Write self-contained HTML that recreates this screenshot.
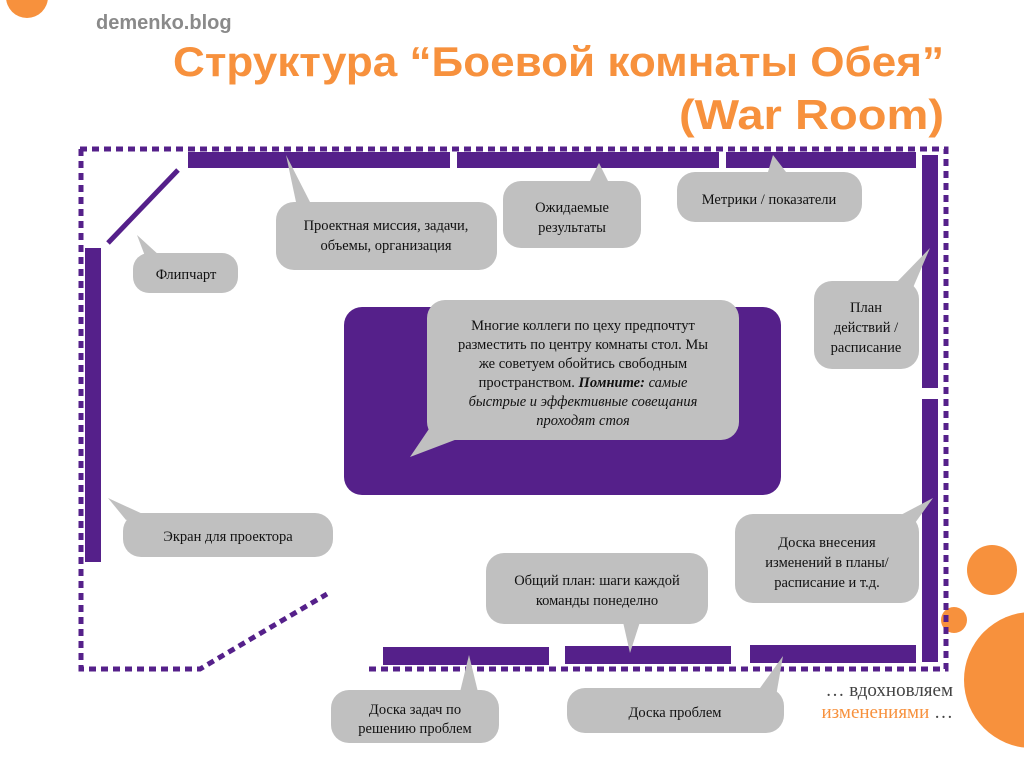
<!DOCTYPE html>
<html><head><meta charset="utf-8"><style>
html,body{margin:0;padding:0;background:#fff;width:1024px;height:768px;overflow:hidden}
svg{display:block}
.c{font-family:"Liberation Serif",serif;font-size:14.5px;fill:#111;text-anchor:middle}
</style></head><body>
<svg width="1024" height="768" viewBox="0 0 1024 768" xmlns="http://www.w3.org/2000/svg">
<!-- orange circles -->
<circle cx="27" cy="-3" r="21" fill="#f7913d"/>
<circle cx="992" cy="570" r="25" fill="#f7913d"/>
<circle cx="954" cy="620" r="13" fill="#f7913d"/>
<circle cx="1032" cy="680" r="68" fill="#f7913d"/>
<text x="96" y="29" font-family="Liberation Sans,sans-serif" font-weight="bold" font-size="20" fill="#8a8a8a">demenko.blog</text>
<text x="944" y="76" text-anchor="end" font-family="Liberation Sans,sans-serif" font-weight="bold" font-size="42" fill="#f7913d" textLength="771" lengthAdjust="spacingAndGlyphs">Структура “Боевой комнаты Обея”</text>
<text x="944" y="129" text-anchor="end" font-family="Liberation Sans,sans-serif" font-weight="bold" font-size="42" fill="#f7913d" textLength="265" lengthAdjust="spacingAndGlyphs">(War Room)</text>
<!-- dashed outline -->
<g stroke="#55208a" stroke-width="5" fill="none" stroke-dasharray="7,5">
<path d="M80 149 H946 V669 H367"/>
<path d="M81 149 V669 H200 L327 594"/>
</g>
<!-- walls -->
<g fill="#55208a">
<rect x="188" y="152" width="262" height="16"/>
<rect x="457" y="152" width="262" height="16"/>
<rect x="726" y="152" width="190" height="16"/>
<rect x="922" y="155" width="16" height="233"/>
<rect x="922" y="399" width="16" height="263"/>
<rect x="85" y="248" width="16" height="314"/>
<rect x="383" y="647" width="166" height="18"/>
<rect x="565" y="646" width="166" height="18"/>
<rect x="750" y="645" width="166" height="18"/>
<rect x="344" y="307" width="437" height="188" rx="18"/>
</g>
<line x1="178" y1="170" x2="108" y2="243" stroke="#55208a" stroke-width="5"/>
<!-- callouts -->
<g fill="#c0c0c0">
<rect x="276" y="202" width="221" height="68" rx="18"/><polygon points="286,155 296,202 310,202"/>
<rect x="503" y="181" width="138" height="67" rx="18"/><polygon points="599,163 590,181 608,181"/>
<rect x="677" y="172" width="185" height="50" rx="18"/><polygon points="773,155 768,172 786,172"/>
<rect x="133" y="253" width="105" height="40" rx="16"/><polygon points="137,235 145,256 160,256"/>
<rect x="814" y="281" width="105" height="88" rx="18"/><polygon points="930,248 895,284 912,290"/>
<rect x="427" y="300" width="312" height="140" rx="18"/><polygon points="410,457 435,420 460,438"/>
<rect x="123" y="513" width="210" height="44" rx="18"/><polygon points="108,498 126,520 145,515"/>
<rect x="735" y="514" width="184" height="89" rx="18"/><polygon points="933,498 895,518 910,530"/>
<rect x="486" y="553" width="222" height="71" rx="18"/><polygon points="630,653 623,622 640,622"/>
<rect x="331" y="690" width="168" height="53" rx="18"/><polygon points="469,655 460,692 478,692"/>
<rect x="567" y="688" width="217" height="45" rx="18"/><polygon points="783,656 755,695 775,702"/>
</g>
<text class="c" x="386" y="230">Проектная миссия, задачи,</text>
<text class="c" x="386" y="250">объемы, организация</text>
<text class="c" x="572" y="212">Ожидаемые</text>
<text class="c" x="572" y="232">результаты</text>
<text class="c" x="769" y="204">Метрики / показатели</text>
<text class="c" x="186" y="279">Флипчарт</text>
<text class="c" x="866" y="312">План</text>
<text class="c" x="866" y="332">действий /</text>
<text class="c" x="866" y="352">расписание</text>
<text class="c" x="583" y="330">Многие коллеги по цеху предпочтут</text>
<text class="c" x="583" y="349">разместить по центру комнаты стол. Мы</text>
<text class="c" x="583" y="368">же советуем обойтись свободным</text>
<text class="c" x="583" y="387">пространством. <tspan font-weight="bold" font-style="italic">Помните:</tspan><tspan font-style="italic"> самые</tspan></text>
<text class="c" x="583" y="406" font-style="italic">быстрые и эффективные совещания</text>
<text class="c" x="583" y="425" font-style="italic">проходят стоя</text>
<text class="c" x="228" y="541">Экран для проектора</text>
<text class="c" x="827" y="547">Доска внесения</text>
<text class="c" x="827" y="567">изменений в планы/</text>
<text class="c" x="827" y="587">расписание и т.д.</text>
<text class="c" x="597" y="585">Общий план: шаги каждой</text>
<text class="c" x="597" y="605">команды понеделно</text>
<text class="c" x="415" y="714">Доска задач по</text>
<text class="c" x="415" y="733">решению проблем</text>
<text class="c" x="675" y="717">Доска проблем</text>
<text x="953" y="696" text-anchor="end" font-family="Liberation Serif,serif" font-size="19" fill="#444">… вдохновляем</text>
<text x="953" y="718" text-anchor="end" font-family="Liberation Serif,serif" font-size="19" fill="#444"><tspan fill="#f7913d">изменениями</tspan> …</text>
</svg>
</body></html>
